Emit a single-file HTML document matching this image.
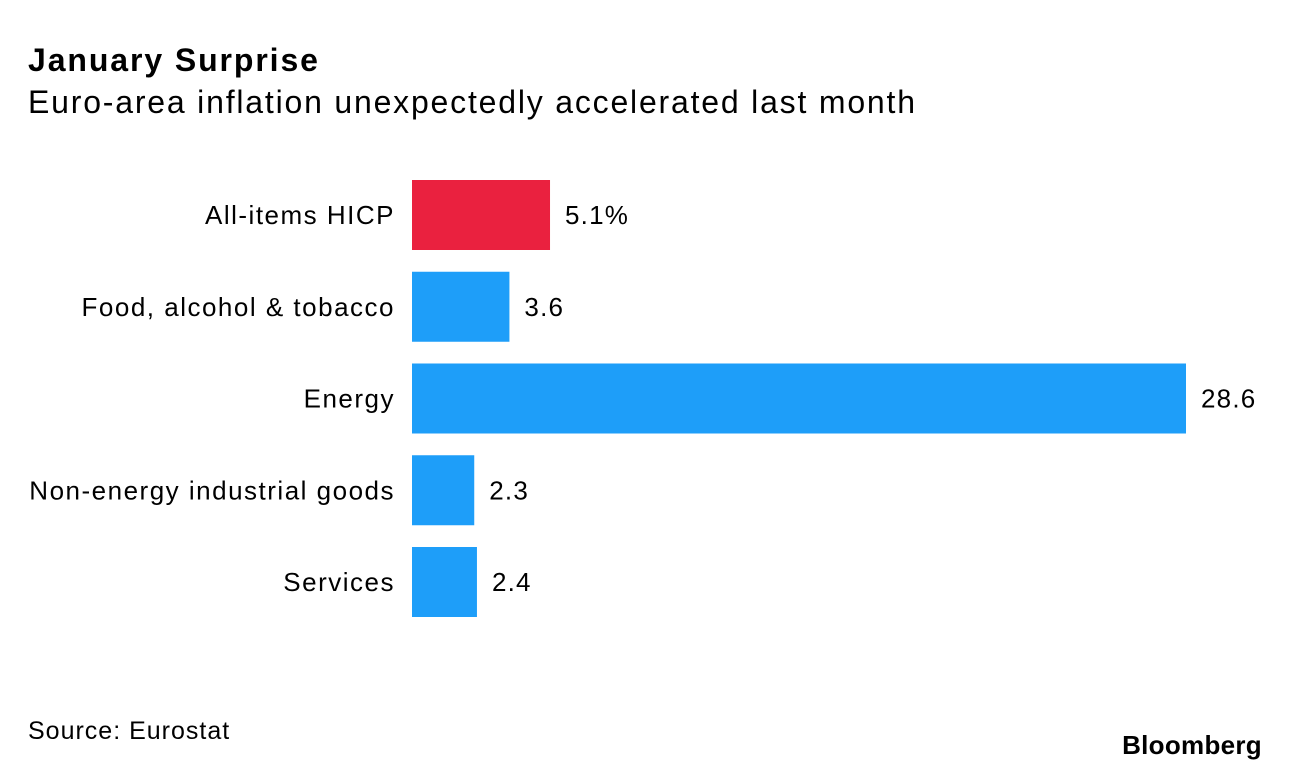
<!DOCTYPE html>
<html><head><meta charset="utf-8">
<style>
html,body{margin:0;padding:0;background:#fff;}
body{width:1289px;height:772px;position:relative;overflow:hidden;font-family:"Liberation Sans",sans-serif;color:#000;}
.title{position:absolute;left:28px;top:42px;font-size:32px;font-weight:bold;letter-spacing:1.9px;}
.sub{position:absolute;left:28px;top:84px;font-size:32px;letter-spacing:1.8px;}
.src{position:absolute;left:28px;top:717px;font-size:25px;letter-spacing:1px;}
.logo{position:absolute;right:27px;top:730px;font-size:26px;font-weight:bold;letter-spacing:0.3px;}
svg{position:absolute;left:0;top:0;}
</style></head>
<body>
<div class="title">January Surprise</div>
<div class="sub">Euro-area inflation unexpectedly accelerated last month</div>
<svg id="chart" width="1289" height="772"></svg>
<div class="src">Source: Eurostat</div>
<div class="logo">Bloomberg</div>
<script>
const categories = ["All-items HICP","Food, alcohol & tobacco","Energy","Non-energy industrial goods","Services"];
const values = [5.1, 3.6, 28.6, 2.3, 2.4];
const valueLabels = ["5.1%","3.6","28.6","2.3","2.4"];
const highlight = [true, false, false, false, false];

const svg = document.getElementById('chart');
const NS = 'http://www.w3.org/2000/svg';
const x0 = 412, pxPerUnit = 774 / 28.6;
const xScale = v => x0 + v * pxPerUnit;
const top0 = 180, step = 91.75, barH = 70;
const yScale = i => top0 + i * step;

categories.forEach((c, i) => {
  const y = yScale(i);
  const r = document.createElementNS(NS, 'rect');
  r.setAttribute('x', x0);
  r.setAttribute('y', y);
  r.setAttribute('width', xScale(values[i]) - x0);
  r.setAttribute('height', barH);
  r.setAttribute('fill', highlight[i] ? '#ea213f' : '#1e9ef9');
  
  
  svg.appendChild(r);

  const t = document.createElementNS(NS, 'text');
  t.setAttribute('x', 395);
  t.setAttribute('y', y + barH / 2 + 9);
  t.setAttribute('text-anchor', 'end');
  t.setAttribute('font-size', '26');
  t.setAttribute('letter-spacing', '1.5');
  t.setAttribute('font-family', 'Liberation Sans, sans-serif');
  t.textContent = c;
  
  
  svg.appendChild(t);

  const v = document.createElementNS(NS, 'text');
  v.setAttribute('x', xScale(values[i]) + 15);
  v.setAttribute('y', y + barH / 2 + 9);
  v.setAttribute('font-size', '26');
  v.setAttribute('letter-spacing', '1.2');
  v.setAttribute('font-family', 'Liberation Sans, sans-serif');
  v.textContent = valueLabels[i];
  
  
  svg.appendChild(v);
});
</script>
</body></html>
